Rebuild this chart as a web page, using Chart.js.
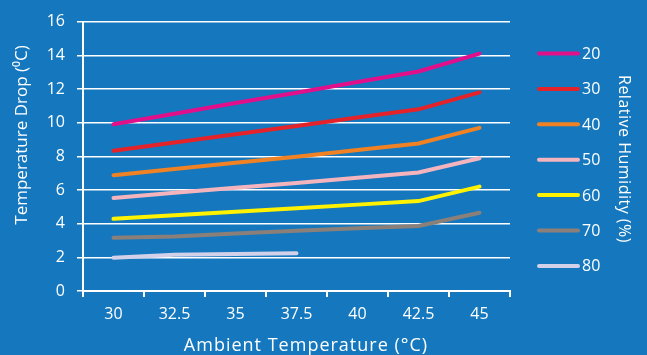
<!DOCTYPE html>
<html>
<head>
<meta charset="utf-8">
<script src="https://cdn.jsdelivr.net/npm/chart.js@4.4.0/dist/chart.umd.min.js"></script>
<style>
  html, body { margin: 0; padding: 0; background: #1578be; }
  #wrap { width: 647px; height: 355px; }
</style>
</head>
<body>
<div id="wrap"><canvas id="chart"></canvas></div>
<script>
// ambient temperature categories (°C)
const temps = ['30', '32.5', '35', '37.5', '40', '42.5', '45'];
// relative humidity series (%)
const humidity = ['20', '30', '40', '50', '60', '70', '80'];

const rh20 = [9.9, 10.53, 11.16, 11.78, 12.41, 13.04, 14.1];
const rh30 = [8.33, 8.82, 9.31, 9.8, 10.3, 10.79, 11.8];
const rh40 = [6.88, 7.25, 7.62, 7.98, 8.37, 8.76, 9.69];
const rh50 = [5.53, 5.83, 6.13, 6.42, 6.73, 7.04, 7.88];
const rh60 = [4.29, 4.5, 4.71, 4.92, 5.13, 5.34, 6.2];
const rh70 = [3.16, 3.24, 3.42, 3.58, 3.72, 3.86, 4.65];
const rh80 = [1.98, 2.15, 2.2, 2.24, null, null, null];

const series = [rh20, rh30, rh40, rh50, rh60, rh70, rh80];
const colors = ['#e1108a', '#e4222a', '#f08224', '#f4b4be', '#fff200', '#8b7f79', '#d3d0ea'];

const FONT = '"Open Sans", "Noto Sans", sans-serif';
const WHITE = '#ffffff';

const extras = {
    id: 'extras',
    afterDraw(chart) {
        const ctx = chart.ctx;
        ctx.save();
        ctx.fillStyle = WHITE;
        ctx.textBaseline = 'middle';

        // y axis title
        ctx.save();
        ctx.font = '17px ' + FONT;
        ctx.textAlign = 'center';
        ctx.translate(22, 135);
        ctx.rotate(-Math.PI / 2);
        ctx.fillText('Temperature Drop (\u2070C)', 0, 0);
        ctx.restore();

        // x axis title
        ctx.save();
        ctx.font = '18px ' + FONT;
        ctx.letterSpacing = '1px';
        ctx.textAlign = 'center';
        ctx.fillText('Ambient Temperature (°C)', 306, 346);
        ctx.restore();

        // legend
        ctx.font = '16px ' + FONT;
        ctx.textAlign = 'left';
        chart.data.datasets.forEach((ds, i) => {
            const y = 53.5 + i * 35.4;
            ctx.strokeStyle = ds.borderColor;
            ctx.lineWidth = 4;
            ctx.lineCap = 'round';
            ctx.beginPath();
            ctx.moveTo(539, y);
            ctx.lineTo(578, y);
            ctx.stroke();
            ctx.fillText(ds.label, 582, y + 1);
        });

        // legend title
        ctx.save();
        ctx.font = '16px ' + FONT;
        ctx.letterSpacing = '0.5px';
        ctx.textAlign = 'center';
        ctx.translate(624, 159);
        ctx.rotate(Math.PI / 2);
        ctx.fillText('Relative Humidity (%)', 0, 0);
        ctx.restore();

        ctx.restore();
    }
};

new Chart(document.getElementById('chart'), {
    type: 'line',
    data: {
        labels: temps,
        datasets: series.map((data, i) => ({
            label: humidity[i],
            data: data,
            borderColor: colors[i],
            backgroundColor: colors[i],
            borderWidth: 4,
            borderCapStyle: 'round',
            pointRadius: 0,
            tension: 0,
            fill: false
        }))
    },
    options: {
        responsive: true,
        maintainAspectRatio: false,
        animation: false,
        layout: { padding: { top: 18, right: 137, left: 0, bottom: 0 } },
        plugins: {
            legend: { display: false },
            tooltip: { enabled: false }
        },
        scales: {
            x: {
                type: 'category',
                offset: true,
                afterFit: s => { s.height = 64; },
                grid: {
                    offset: true,
                    drawOnChartArea: false,
                    drawTicks: true,
                    tickLength: 6,
                    color: WHITE,
                    lineWidth: 2
                },
                border: { color: WHITE, width: 2 },
                ticks: {
                    color: WHITE,
                    font: { family: FONT, size: 16 },
                    padding: 8,
                    maxRotation: 0
                }
            },
            y: {
                min: 0,
                max: 16,
                afterFit: s => { s.width = 83; },
                grid: {
                    color: WHITE,
                    lineWidth: 1.5,
                    tickLength: 6
                },
                border: { color: WHITE, width: 2 },
                ticks: {
                    stepSize: 2,
                    color: WHITE,
                    font: { family: FONT, size: 16 },
                    padding: 12
                }
            }
        }
    },
    plugins: [extras]
});
</script>
</body>
</html>
